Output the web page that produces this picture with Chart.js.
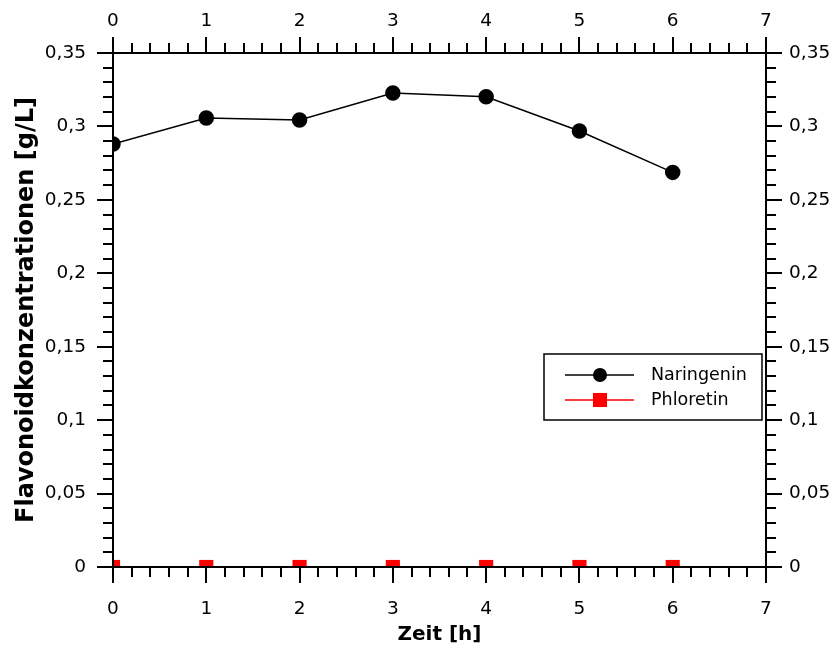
<!DOCTYPE html>
<html>
<head>
<meta charset="utf-8">
<script src="https://cdn.jsdelivr.net/npm/chart.js@4.4.1/dist/chart.umd.min.js"></script>
<style>
  html, body { margin: 0; padding: 0; background: #fff; }
  #wrap { width: 835px; height: 653px; }
</style>
</head>
<body>
<div id="wrap"><canvas id="flavChart" width="835" height="653"></canvas></div>
<script>
// time points (h) and measured concentrations (g/L)
const hours = [0, 1, 2, 3, 4, 5, 6];
const naringenin = [0.288, 0.3057, 0.3044, 0.3228, 0.3202, 0.2969, 0.2687];
const phloretin = [0, 0, 0, 0, 0, 0, 0];
const seriesNames = ['Naringenin', 'Phloretin'];

const FONT = 'DejaVu Sans';

// format tick values with German decimal comma
const fmt = (v) => String(Math.round(v * 100) / 100).replace('.', ',');

// draws frame, major + minor tick marks (outside) and the legend box
const frameAndTicks = {
  id: 'frameAndTicks',
  afterDatasetsDraw(chart) {
    const ctx = chart.ctx;
    const a = chart.chartArea;
    const xs = chart.scales.x, ys = chart.scales.y;
    ctx.save();
    ctx.strokeStyle = '#000';
    ctx.lineWidth = 2;
    ctx.lineCap = 'butt';
    ctx.beginPath();
    // x ticks (bottom + top), minor every 0.2
    for (let i = 0; i <= 35; i++) {
      const px = Math.round(xs.getPixelForValue(i / 5));
      const len = i % 5 === 0 ? 16 : 10;
      ctx.moveTo(px, a.bottom); ctx.lineTo(px, a.bottom + len);
      ctx.moveTo(px, a.top); ctx.lineTo(px, a.top - len);
    }
    // y ticks (left + right), minor every 0.01
    for (let i = 0; i <= 35; i++) {
      const py = Math.round(ys.getPixelForValue(i / 100));
      const len = i % 5 === 0 ? 16 : 10;
      ctx.moveTo(a.left, py); ctx.lineTo(a.left - len, py);
      ctx.moveTo(a.right, py); ctx.lineTo(a.right + len, py);
    }
    ctx.stroke();
    ctx.strokeRect(a.left, a.top, a.right - a.left, a.bottom - a.top);

    // legend
    const lx = 544, ly = 354, lw = 218, lh = 66;
    ctx.fillStyle = '#fff';
    ctx.fillRect(lx, ly, lw, lh);
    ctx.lineWidth = 1.5;
    ctx.strokeRect(lx, ly, lw, lh);
    const rows = [375, 400];
    chart.data.datasets.forEach((ds, i) => {
      const y = rows[i];
      ctx.strokeStyle = ds.borderColor;
      ctx.lineWidth = 1.5;
      ctx.beginPath();
      ctx.moveTo(565, y); ctx.lineTo(634, y);
      ctx.stroke();
      ctx.fillStyle = ds.pointBackgroundColor;
      if (ds.pointStyle === 'rect') {
        ctx.fillRect(593, y - 7, 14, 14);
      } else {
        ctx.beginPath();
        ctx.arc(600, y, 7, 0, Math.PI * 2);
        ctx.fill();
      }
      ctx.fillStyle = '#000';
      ctx.font = '17.5px "' + FONT + '"';
      ctx.textAlign = 'left';
      ctx.textBaseline = 'middle';
      ctx.fillText(ds.label, 651, y);
    });
    ctx.restore();
  }
};

const xTickOpts = (pad) => ({
  stepSize: 1,
  padding: pad,
  color: '#000',
  font: { family: FONT, size: 18.5 },
  maxRotation: 0,
  callback: (v) => fmt(v)
});
const yTickOpts = (pad) => ({
  stepSize: 0.05,
  padding: pad,
  color: '#000',
  font: { family: FONT, size: 18.5 },
  callback: (v) => fmt(v)
});
const noGrid = { display: false, drawTicks: false };

new Chart(document.getElementById('flavChart').getContext('2d'), {
  type: 'line',
  data: {
    datasets: [
      {
        label: seriesNames[0],
        data: hours.map((h, i) => ({ x: h, y: naringenin[i] })),
        borderColor: '#000',
        backgroundColor: '#000',
        pointBackgroundColor: '#000',
        pointBorderColor: '#000',
        pointStyle: 'circle',
        pointRadius: 7,
        borderWidth: 1.5,
        clip: 0
      },
      {
        label: seriesNames[1],
        data: hours.map((h, i) => ({ x: h, y: phloretin[i] })),
        borderColor: '#ff0000',
        backgroundColor: '#ff0000',
        pointBackgroundColor: '#ff0000',
        pointBorderColor: '#ff0000',
        pointStyle: 'rect',
        pointRadius: 10,
        pointBorderWidth: 0,
        borderWidth: 1.5,
        clip: 0
      }
    ]
  },
  options: {
    responsive: false,
    animation: false,
    layout: { padding: 0 },
    plugins: { legend: { display: false }, tooltip: { enabled: false } },
    elements: { line: { tension: 0 } },
    scales: {
      x: {
        type: 'linear', position: 'bottom', min: 0, max: 7,
        grid: noGrid, border: { display: false },
        ticks: xTickOpts(31),
        title: { display: true, text: 'Zeit [h]', color: '#000',
                 font: { family: FONT, size: 20, weight: 'bold' }, padding: { bottom: 6 } },
        afterFit: (s) => { s.height = 86; }
      },
      x2: {
        type: 'linear', position: 'top', min: 0, max: 7,
        grid: noGrid, border: { display: false },
        ticks: xTickOpts(21),
        afterFit: (s) => { s.height = 53; }
      },
      y: {
        type: 'linear', position: 'left', min: 0, max: 0.35,
        grid: noGrid, border: { display: false },
        ticks: yTickOpts(27),
        title: { display: true, text: 'Flavonoidkonzentrationen [g/L]', color: '#000',
                 font: { family: FONT, size: 24, weight: 'bold' }, padding: { top: 12 } },
        afterFit: (s) => { s.width = 113; }
      },
      y2: {
        type: 'linear', position: 'right', min: 0, max: 0.35,
        grid: noGrid, border: { display: false },
        ticks: yTickOpts(23),
        afterFit: (s) => { s.width = 69; }
      }
    }
  },
  plugins: [frameAndTicks]
});
</script>
</body>
</html>
